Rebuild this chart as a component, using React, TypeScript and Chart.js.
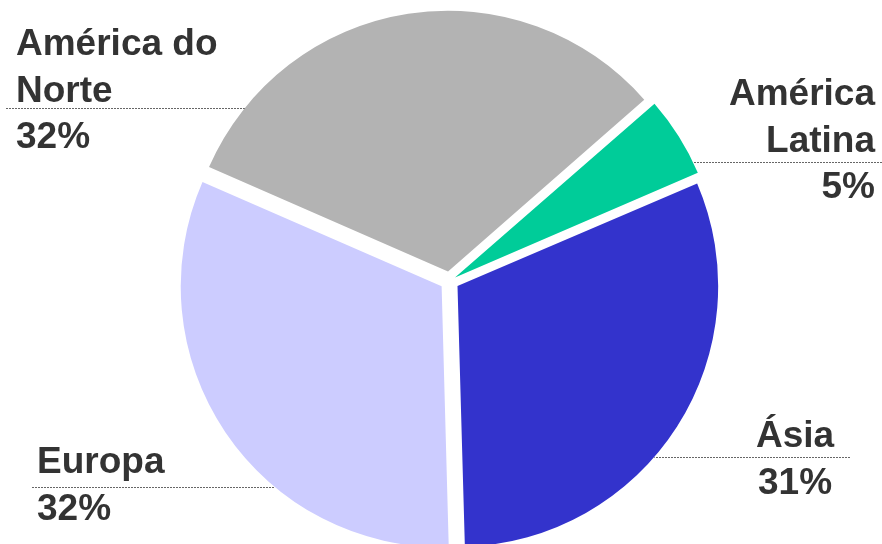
import React, { useEffect, useRef } from "react";
import { Chart, registerables } from "chart.js";

Chart.register(...registerables);

// ---- data ----
const categories = ["América do Norte", "América Latina", "Ásia", "Europa"];
const labelLines = [["América do", "Norte"], ["América", "Latina"], ["Ásia"], ["Europa"]];
const shares = [32, 5, 31, 32];
const colors = ["#b3b3b3", "#00cc99", "#3333cc", "#ccccff"];

// ---- label layout (annotation positions) ----
type LabelLayout = {
  align: CanvasTextAlign;
  x: number;
  firstBaseline: number;
  lineY: number;
  lineSide: "left" | "right";
  lineOuter: number;
};
const labelLayout: LabelLayout[] = [
  { align: "left", x: 16, firstBaseline: 55, lineY: 108, lineSide: "left", lineOuter: 6 },
  { align: "right", x: 875, firstBaseline: 105, lineY: 162, lineSide: "right", lineOuter: 882 },
  { align: "center", x: 795, firstBaseline: 447, lineY: 457, lineSide: "right", lineOuter: 850 },
  { align: "left", x: 37, firstBaseline: 473, lineY: 487, lineSide: "left", lineOuter: 32 },
];
const LINE_HEIGHT = 46.5;
const FONT = "bold 37px 'Liberation Sans', Arial, sans-serif";

const labelPlugin = {
  id: "pieLabels",
  afterDatasetsDraw(chart: any) {
    const ctx: CanvasRenderingContext2D = chart.ctx;
    const meta = chart.getDatasetMeta(0);
    ctx.save();
    meta.data.forEach((arc: any, i: number) => {
      const L = labelLayout[i];
      const p = arc.getProps(["x", "y", "startAngle", "endAngle", "outerRadius", "circumference"], true);
      const t = (arc.options.offset || 0) / 4;
      const mid = (p.startAngle + p.endAngle) / 2;
      const fix = 1 - Math.sin(Math.min(Math.PI, p.circumference || 0));
      const r = p.outerRadius + t * fix;
      const cx = p.x + Math.cos(mid) * t;
      const cy = p.y + Math.sin(mid) * t;
      const dy = L.lineY - cy;
      const dx = Math.sqrt(Math.max(r * r - dy * dy, 0));
      const edge = L.lineSide === "left" ? cx - dx : cx + dx;
      // leader line
      ctx.beginPath();
      ctx.strokeStyle = "#666666";
      ctx.lineWidth = 1;
      ctx.setLineDash([2, 1]);
      ctx.moveTo(L.lineOuter, L.lineY + 0.5);
      ctx.lineTo(edge, L.lineY + 0.5);
      ctx.stroke();
      ctx.setLineDash([]);
      // text
      ctx.fillStyle = "#333333";
      ctx.font = FONT;
      ctx.textAlign = L.align;
      ctx.textBaseline = "alphabetic";
      const lines = [...labelLines[i], `${shares[i]}%`];
      lines.forEach((s, k) => {
        ctx.fillText(s, L.x, L.firstBaseline + k * LINE_HEIGHT);
      });
    });
    ctx.restore();
  },
};

export default function App() {
  const ref = useRef<HTMLCanvasElement>(null);
  useEffect(() => {
    const chart = new Chart(ref.current!, {
      type: "pie",
      data: {
        labels: categories,
        datasets: [
          {
            data: shares,
            backgroundColor: colors,
            borderWidth: 0,
            offset: [38, 26, 38, 38],
            clip: false as any,
          },
        ],
      },
      options: {
        responsive: false,
        animation: false,
        rotation: -66.4,
        radius: 260,
        layout: { padding: { left: 17, top: 18, right: 0, bottom: 0 } },
        plugins: { legend: { display: false }, tooltip: { enabled: false } },
        events: [],
      },
      plugins: [labelPlugin],
    });
    return () => chart.destroy();
  }, []);
  return (
    <div style={{ position: "fixed", left: 0, top: 0, width: 882, height: 544, background: "#fff" }}>
      <canvas ref={ref} width={882} height={544} />
    </div>
  );
}
